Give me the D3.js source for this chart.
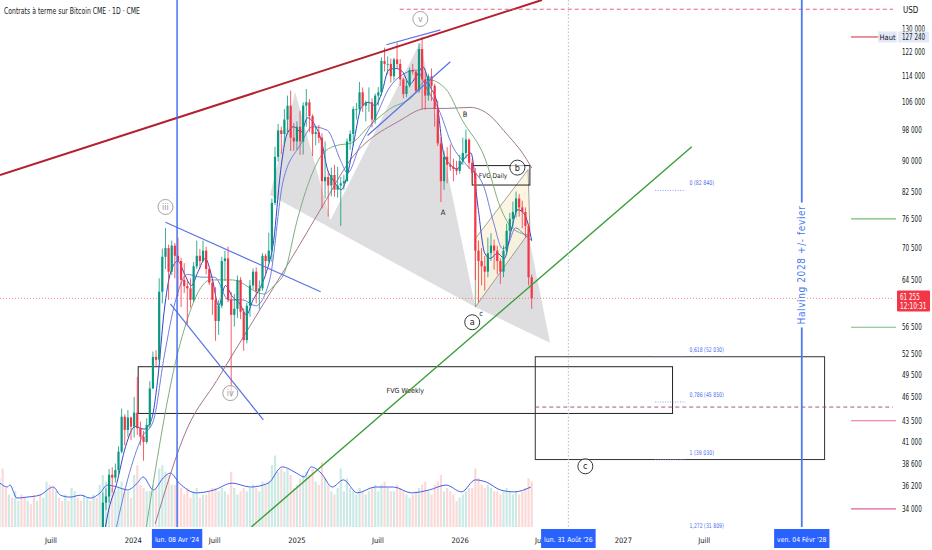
<!DOCTYPE html>
<html lang="fr">
<head>
    <meta charset="utf-8">
    <script type="text/javascript" src="https://d3js.org/d3.v7.min.js"></script>
    <title>Contrats à terme sur Bitcoin CME · 1D · CME</title>
    <style>
        html, body { margin: 0; padding: 0; background: #ffffff; }
        svg text { font-family: "Liberation Sans Narrow", "DejaVu Sans Condensed", "Liberation Sans", sans-serif; }
    </style>
</head>
<body>
<div id="chart"></div>
<script type="text/javascript">

// ---------- DATA (prices in thousands USD, weekly candles) ----------
const weekStart = "2023-10-02";
const firstOpenK = 27.0;
const closeK = [28.0,27.2,30.5,34.6,35.2,37.4,37.1,37.9,39.9,44.0,
    42.4,43.9,42.8,44.5,42.6,41.6,41.0,43.0,47.6,52.0,
    51.6,62.4,68.8,70.5,66.0,71.0,69.0,68.0,64.5,63.4,
    63.0,61.0,67.0,69.0,68.0,70.0,66.5,64.0,61.0,57.5,
    60.0,68.0,68.5,61.0,58.5,59.5,64.5,59.0,54.5,60.0,
    63.5,66.0,62.5,63.0,69.0,68.0,70.0,80.0,91.0,98.0,
    97.0,101.0,105.0,96.0,95.0,99.0,95.0,105.0,106.0,102.0,
    97.0,97.5,96.0,85.0,86.0,84.0,86.5,83.0,84.0,84.5,
    85.0,95.0,97.0,104.0,104.0,109.0,105.0,106.0,106.0,101.0,
    108.0,109.0,119.0,118.0,118.0,114.0,119.5,118.0,113.0,108.5,
    111.0,116.0,115.5,109.5,123.0,113.0,108.0,114.0,111.0,104.0,
    94.5,85.0,91.0,89.0,88.5,88.0,87.5,90.0,92.0,95.5,
    89.5,87.0,70.0,68.0,67.0,66.0,69.5,71.0,70.0,68.0,
    66.0,70.0,74.0,76.5,78.0,81.0,79.0,78.0,75.0,65.0,
    61.255];
const highK = [28.8,28.2,31.2,35.6,36.0,38.0,38.2,38.6,40.5,45.0,
    44.3,44.8,44.0,46.5,49.2,43.4,42.3,43.8,48.6,52.8,
    53.0,64.8,70.4,74.6,71.2,72.0,71.5,72.6,68.6,67.6,
    64.6,64.8,67.8,72.0,70.3,72.0,70.8,66.8,64.6,63.2,
    61.0,68.8,70.0,70.8,62.4,62.0,65.3,65.0,59.6,60.5,
    64.5,66.6,66.8,64.4,69.5,69.4,73.6,81.0,93.6,99.8,
    99.0,104.0,108.0,109.5,100.0,100.5,103.5,106.0,110.0,107.0,
    102.5,99.0,99.5,97.2,95.0,87.5,88.3,89.0,88.5,86.0,
    86.5,95.8,98.0,104.8,105.8,112.2,110.5,106.5,110.5,107.2,
    108.6,110.6,120.2,123.5,120.5,119.8,120.0,125.2,119.6,113.5,
    113.0,116.8,118.0,115.8,125.0,127.24,115.5,114.8,116.5,111.6,
    106.5,96.0,92.5,93.5,94.2,90.5,90.0,91.5,96.0,98.2,
    95.8,90.5,88.2,72.0,70.5,69.0,72.6,73.5,72.2,71.0,
    68.5,71.0,75.5,77.8,80.3,82.6,82.0,80.5,79.0,75.5,
    65.5];
const lowK = [27.3,26.8,27.0,30.3,33.9,34.6,35.6,36.6,37.2,39.7,
    40.6,41.6,41.2,41.5,41.8,40.6,38.9,40.8,42.6,47.6,
    50.6,51.3,60.4,66.5,61.0,65.4,64.8,61.6,59.8,62.2,
    57.0,59.7,60.6,66.5,66.6,67.8,65.5,63.6,58.5,54.4,
    55.3,59.6,64.3,60.6,46.5,56.6,58.0,57.8,52.9,54.0,
    58.2,62.8,60.4,59.4,62.6,65.5,67.6,67.8,79.5,89.8,
    91.8,94.0,97.5,92.5,92.5,92.8,91.5,91.6,99.0,97.5,
    91.2,94.0,94.6,78.8,81.0,77.0,81.5,81.4,81.2,75.0,
    83.0,85.0,92.8,93.8,101.0,102.6,103.2,100.5,103.2,98.8,
    99.8,105.0,108.0,115.5,114.6,112.0,112.6,116.5,111.0,107.2,
    107.5,110.5,114.6,108.6,108.8,104.0,103.8,106.5,106.4,99.0,
    93.8,80.2,83.0,84.5,87.5,85.0,86.5,86.8,89.0,90.6,
    88.0,84.6,64.5,60.6,63.5,62.6,65.0,68.0,66.4,65.5,
    63.8,65.0,69.2,72.6,74.6,76.8,77.0,74.5,72.6,63.5,
    59.5];

// weekly volume (thousand contracts / day, average), from 2023-03-06
const volStart = "2023-03-06";
const volume = [15,18,12,10, 9,11,8,10, 9,8,7,10,8, 10,9,14,13, 12,11,9,8,10, 8,12,11,9, 8,10,9,8,
    10,9,13,16,14, 13,12,11,12, 14,12,11,9,
    16,19,13,12,11, 11,13,12,18, 19,17,16,13, 13,14,12,10,12, 9,11,12,9, 10,10,11,12,
    12,11,12,11,10, 17,12,10,11, 12,11,12,13,12, 11,14,13,14, 19,22,17,18, 17,18,16,12,13,
    15,16,17,16, 18,14,13,20, 15,13,11,10,12, 18,11,15,12, 11,10,12,11, 10,11,12,13,11,
    13,14,12,11, 11,13,12,11, 10,9,10,11,12, 13,14,11,10, 13,14,16,11, 12,11,10,8,9,
    10,11,12,12, 18,15,13,12, 13,12,11,11,10, 11,12,11,10, 11,10,11,12, 15,14];
const volDirEarly = "udduduuddudduduuddudduduudduud";
const volMA = [["2023-03-09",13.5],["2023-03-25",12.3],["2023-03-31",12.9],["2023-04-16",8.9],
    ["2023-05-08",9.2],["2023-06-06",9.8],["2023-07-06",12.3],["2023-07-22",9.8],["2023-08-13",9.2],
    ["2023-09-05",9.8],["2023-09-27",8.9],["2023-10-19",10.5],["2023-11-04",12.9],["2023-11-26",12.3],
    ["2023-12-19",11.4],["2024-01-10",13.5],["2024-01-23",15.4],["2024-02-15",11.4],["2024-03-08",15.1],
    ["2024-03-24",16.6],["2024-04-13",13.5],["2024-05-21",10.5],["2024-06-30",11.4],["2024-08-09",13.5],
    ["2024-09-19",12.3],["2024-10-29",13.5],["2024-11-29",18.5],["2024-12-31",16.6],["2025-01-17",15.4],
    ["2025-02-02",18.5],["2025-02-24",16.6],["2025-03-21",12.3],["2025-04-15",14.5],["2025-05-16",10.5],
    ["2025-06-25",12.3],["2025-08-05",12.3],["2025-09-14",10.5],["2025-10-24",11.4],["2025-12-01",12.9],
    ["2026-01-04",10.8],["2026-02-04",14.5],["2026-03-01",13.8],["2026-04-01",11.4],["2026-05-02",10.8],
    ["2026-06-08",12.3]];

// moving averages (thousands)
const ma20 = [["2023-10-20",29.5],["2023-11-05",33.5],["2023-11-25",36.5],["2023-12-15",40.5],["2024-01-05",42.8],
    ["2024-01-25",42.5],["2024-02-10",43.5],["2024-02-25",49],["2024-03-10",59],["2024-03-25",66],["2024-04-10",68],
    ["2024-04-25",65.5],["2024-05-10",63.5],["2024-05-25",66],["2024-06-10",68.5],["2024-06-25",65],["2024-07-10",60],
    ["2024-07-25",63.5],["2024-08-10",61.5],["2024-08-25",60.5],["2024-09-10",58.5],["2024-09-25",61],["2024-10-10",63],
    ["2024-10-25",66],["2024-11-10",72],["2024-11-25",87],["2024-12-10",97],["2024-12-25",99],["2025-01-10",97.5],
    ["2025-01-25",101.5],["2025-02-10",99.5],["2025-02-25",95],["2025-03-10",88],["2025-03-25",85],["2025-04-10",83],
    ["2025-04-25",87],["2025-05-10",96],["2025-05-25",104.5],["2025-06-10",106],["2025-06-25",105],["2025-07-10",109],
    ["2025-07-25",116],["2025-08-10",116.5],["2025-08-25",115.5],["2025-09-10",111.5],["2025-09-25",114],
    ["2025-10-10",117],["2025-10-25",111],["2025-11-10",106],["2025-11-25",92],["2025-12-10",89],["2025-12-25",88],
    ["2026-01-10",90.5],["2026-01-25",92],["2026-02-10",79],["2026-02-25",69.5],["2026-03-10",68.5],["2026-03-25",69.5],
    ["2026-04-10",68.5],["2026-04-25",74],["2026-05-10",78.5],["2026-05-25",77.5],["2026-06-10",72]];
const ma50 = [["2023-11-20",31.5],["2023-12-20",37],["2024-01-20",41.5],["2024-02-15",43.5],["2024-03-10",52],
    ["2024-04-05",61],["2024-05-01",65.5],["2024-06-01",65],["2024-07-01",65],["2024-08-01",61],["2024-09-01",61],
    ["2024-10-01",60],["2024-11-01",64.5],["2024-12-01",85],["2025-01-08",94],["2025-02-05",99],["2025-03-10",98],
    ["2025-04-09",90],["2025-04-24",87],["2025-05-22",94],["2025-06-27",102],["2025-07-25",110],["2025-08-31",115],
    ["2025-09-25",116],["2025-10-19",110],["2025-11-17",103],["2025-12-14",94],["2026-01-15",89],["2026-02-22",84],
    ["2026-03-16",76],["2026-04-06",70.4],["2026-04-17",71],["2026-05-05",74.6],["2026-05-27",73],["2026-06-10",72]];
const ma100 = [["2024-01-25",31],["2024-04-15",54],["2024-06-22",64.5],["2024-08-10",64.5],["2024-10-19",62],
    ["2024-11-11",63.5],["2024-12-05",66],["2025-01-01",76],["2025-02-01",86],["2025-03-01",92],["2025-04-02",94],
    ["2025-05-01",94.5],["2025-06-10",99],["2025-07-27",104],["2025-09-15",107.5],["2025-10-20",113],
    ["2025-11-30",110],["2026-01-05",101],["2026-02-26",90.5],["2026-04-01",79],["2026-04-28",74.5],["2026-06-08",73]];
const ma200 = [["2024-02-19",32.6],["2024-04-30",42.5],["2024-07-06",48.7],["2024-10-18",60.3],["2025-01-02",70.4],
    ["2025-03-01",79.6],["2025-05-01",90.3],["2025-08-19",100.7],["2025-10-18",104.2],["2025-12-02",104.2],
    ["2026-01-23",104.5],["2026-03-10",102],["2026-04-08",98],["2026-05-30",90.3],["2026-06-10",88.2]];

// axes
const priceTicks = [130000,122000,114000,106000,98000,90000,82500,76500,70500,64500,56500,52500,49500,46500,43500,41000,38600,36200,34000];
const timeTicks = [["2023-07-01","Juill"],["2024-01-01","2024"],["2024-07-01","Juill"],["2025-01-01","2025"],
    ["2025-07-01","Juill"],["2026-01-01","2026"],["2026-07-01","Juill"],["2027-01-01","2027"],["2027-07-01","Juill"]];
const markerDates = [["2024-04-08","lun. 08 Avr '24"],["2026-08-31","lun. 31 Août '26"],["2028-02-04","ven. 04 Févr '28"]];
const lastPrice = 61255;
const lastTime = "12:10:31";
const highPrice = 127240;
const alertLevels = [[127240,"#e0485f"],[76500,"#6fbf73"],[56500,"#6fbf73"],[43500,"#ec6a86"],[34000,"#e0609a"]];

// drawings (date, price)
const fibLevels = [["0",82840],["0,618",52030],["0,786",45850],["1",39030],["1,272",31809]];
const fibSpan = ["2027-03-13","2027-05-20"];
const redTrend = [["2023-03-09",86500],["2026-07-03",141100]];
const greenTrend = [["2024-09-21",32320],["2027-06-03",93600]];
const wedgeUpper = [["2024-03-13",75800],["2025-02-23",62400]];
const wedgeLower = [["2024-03-24",60300],["2024-10-18",43600]];
const topBlueA = [["2025-07-20",124500],["2025-11-18",129800]];
const topBlueB = [["2025-06-08",96600],["2025-12-10",118700]];
const harmonic1 = [["2024-11-02",81800],["2024-12-28",109100],["2025-03-17",76200],["2025-10-04",125500],["2026-02-04",59800]];
const harmonic2 = [["2026-02-04",59800],["2026-05-15",82200],["2026-07-21",54100]];
const channel = [["2026-02-04",72400],["2026-06-02",87800],["2026-06-06",73900],["2026-02-04",59800]];
const fvgWeekly = ["2024-01-12","2027-04-21",50600,44400];
const fvgDaily = ["2026-01-28","2026-06-06",88800,84100];
const targetBox = ["2026-06-18","2028-03-26",52030,39030];
const magentaDash = ["2026-06-18",45200];
const topDash = ["2025-08-19",137500];
const waveCircles = [["2024-03-13",79100,"iii","#9a9a9a"],["2024-08-05",47000,"iv","#9a9a9a"],["2025-10-04",133800,"v","#9a9a9a"],
    ["2026-01-28",57300,"a","#222"],["2026-05-09",88300,"b","#222"],["2026-10-08",38300,"c","#222"]];
const plainLetters = [["2025-11-24",77300,"A"],["2026-01-12",101700,"B"],["2026-02-17",58300,"c"]];
const halvingDate = "2028-02-04";
const aprilDate = "2024-04-08";
const dottedDate = "2026-08-31";

// ---------- SETUP ----------
const W = 932, H = 550, paneW = 893, paneH = 527;
const parse = d3.utcParse("%Y-%m-%d");
const x = d3.scaleUtc().domain([parse("2023-03-09"), parse("2028-08-26")]).range([0, paneW]);
const y = d3.scaleLog().domain([32320, 141100]).range([paneH, 0]);
const yVol = d3.scaleLinear().domain([0, 40]).range([paneH, paneH - 130]);
const fmt = v => d3.format(",")(v).replace(/,/g, " ");
const px = d => x(parse(d[0]));
const py = d => y(d[1]);

const svg = d3.select("#chart").append("svg")
    .attr("width", W).attr("height", H)
    .style("display", "block").style("background", "#fff");

svg.append("clipPath").attr("id", "pane")
    .append("rect").attr("x", 0).attr("y", 0).attr("width", paneW).attr("height", paneH);

const pane = svg.append("g").attr("clip-path", "url(#pane)");

// candle objects
const candles = closeK.map((c, i) => {
    const open = i === 0 ? firstOpenK : closeK[i - 1];
    return { date: d3.utcDay.offset(parse(weekStart), 7 * i + 2), open: open * 1000, close: c * 1000, high: highK[i] * 1000, low: lowK[i] * 1000 };
});

// ---------- harmonic patterns & channel ----------
const poly = d3.line().x(px).y(py);
pane.append("path").attr("d", poly(harmonic1) + "Z").attr("fill", "#d6d6d8").attr("fill-opacity", 0.8);
pane.append("path").attr("d", poly(harmonic2) + "Z").attr("fill", "#d6d6d8").attr("fill-opacity", 0.8);
pane.append("path").attr("d", poly(channel) + "Z").attr("fill", "#fbf3dc").attr("fill-opacity", 0.85)
    .attr("stroke", "#8a8a8a").attr("stroke-width", 0.8);

// ---------- volume ----------
const volData = volume.map((v, i) => {
    const ci = i - 30;
    let up;
    if (ci < 0) up = volDirEarly[i] === "u";
    else up = candles[ci].close >= candles[ci].open;
    return { date: d3.utcDay.offset(parse(volStart), 7 * i + 2), v: v, up: up };
});
pane.append("g").selectAll("rect").data(volData).join("rect")
    .attr("x", d => x(d.date) - 1.1)
    .attr("y", d => yVol(d.v))
    .attr("width", 2.2)
    .attr("height", d => paneH - yVol(d.v))
    .attr("fill", d => d.up ? "#8fd0c5" : "#f6aaa9")
    .attr("fill-opacity", 0.45);

pane.append("path").datum(volMA)
    .attr("d", d3.line().x(px).y(d => yVol(d[1])).curve(d3.curveMonotoneX))
    .attr("fill", "none").attr("stroke", "#4461e6").attr("stroke-width", 1);

// ---------- boxes ----------
function box(b, stroke) {
    const x0 = x(parse(b[0])), x1 = x(parse(b[1])), y0 = y(b[2]), y1 = y(b[3]);
    pane.append("rect").attr("x", x0).attr("y", y0).attr("width", x1 - x0).attr("height", y1 - y0)
        .attr("fill", "none").attr("stroke", stroke).attr("stroke-width", 1);
    return [(x0 + x1) / 2, (y0 + y1) / 2];
}
const fw = box(fvgWeekly, "#222");
const fd = box(fvgDaily, "#222");
box(targetBox, "#333");
pane.append("text").attr("x", fw[0]).attr("y", fw[1] + 2.5).attr("text-anchor", "middle")
    .style("font-size", "7px").attr("fill", "#222").text("FVG Weekly");
pane.append("text").attr("x", fd[0] - 8).attr("y", fd[1] + 2.5).attr("text-anchor", "middle")
    .style("font-size", "6.5px").attr("fill", "#222").text("FVG Daily");

// ---------- moving averages ----------
const maLine = d3.line().x(px).y(d => y(d[1] * 1000)).curve(d3.curveMonotoneX);
[[ma200, "#a27590"], [ma100, "#7fae7f"], [ma50, "#6f7fe0"], [ma20, "#3544c8"]].forEach(([data, col]) => {
    pane.append("path").datum(data).attr("d", maLine)
        .attr("fill", "none").attr("stroke", col).attr("stroke-width", 1);
});

// ---------- candles ----------
const cg = pane.append("g");
cg.selectAll("line").data(candles).join("line")
    .attr("x1", d => x(d.date)).attr("x2", d => x(d.date))
    .attr("y1", d => y(d.high)).attr("y2", d => y(d.low))
    .attr("stroke", d => d.close >= d.open ? "#089981" : "#f23645").attr("stroke-width", 0.8);
cg.selectAll("rect").data(candles).join("rect")
    .attr("x", d => x(d.date) - 1.1)
    .attr("y", d => y(Math.max(d.open, d.close)))
    .attr("width", 2.2)
    .attr("height", d => Math.max(0.8, Math.abs(y(d.open) - y(d.close))))
    .attr("fill", d => d.close >= d.open ? "#089981" : "#f23645");

// ---------- drawings ----------
function seg(s, col, w, dash) {
    const l = pane.append("line").attr("x1", px(s[0])).attr("y1", py(s[0]))
        .attr("x2", px(s[1])).attr("y2", py(s[1]))
        .attr("stroke", col).attr("stroke-width", w);
    if (dash) l.attr("stroke-dasharray", dash);
}
seg(redTrend, "#b3202f", 2);
seg(greenTrend, "#3a9d3a", 1.4);
seg(wedgeUpper, "#5a73e6", 1.2);
seg(wedgeLower, "#5a73e6", 1.2);
seg(topBlueA, "#5a73e6", 1.2);
seg(topBlueB, "#5a73e6", 1.2);

// horizontal dashed lines
pane.append("line").attr("x1", x(parse(magentaDash[0]))).attr("x2", paneW)
    .attr("y1", y(magentaDash[1])).attr("y2", y(magentaDash[1]))
    .attr("stroke", "#a0407a").attr("stroke-width", 0.9).attr("stroke-dasharray", "4,3");
pane.append("line").attr("x1", x(parse(topDash[0]))).attr("x2", paneW)
    .attr("y1", y(topDash[1])).attr("y2", y(topDash[1]))
    .attr("stroke", "#e0506e").attr("stroke-width", 0.9).attr("stroke-dasharray", "4,3");
pane.append("line").attr("x1", 0).attr("x2", paneW)
    .attr("y1", y(lastPrice)).attr("y2", y(lastPrice))
    .attr("stroke", "#f23645").attr("stroke-width", 0.8).attr("stroke-dasharray", "1,2").attr("opacity", 0.7);

// vertical lines
pane.append("line").attr("x1", x(parse(dottedDate))).attr("x2", x(parse(dottedDate)))
    .attr("y1", 0).attr("y2", paneH).attr("stroke", "#b4bccb").attr("stroke-width", 1).attr("stroke-dasharray", "1.5,2");
pane.append("line").attr("x1", x(parse(aprilDate))).attr("x2", x(parse(aprilDate)))
    .attr("y1", 0).attr("y2", paneH).attr("stroke", "#3d68ee").attr("stroke-width", 1.4);
const hx = x(parse(halvingDate));
pane.append("line").attr("x1", hx).attr("x2", hx).attr("y1", 0).attr("y2", paneH)
    .attr("stroke", "#4a7af0").attr("stroke-width", 1.8);
const hGap = pane.append("rect").attr("fill", "#fff");
const ht = pane.append("text").attr("transform", `translate(${hx + 3.5},265) rotate(-90)`)
    .attr("text-anchor", "middle").style("font-size", "10px").style("letter-spacing", "0.6px")
    .attr("fill", "#4a7af0").text("Halving 2028  +/- fevier");
const htl = ht.node().getComputedTextLength();
hGap.attr("x", hx - 3).attr("y", 265 - htl / 2 - 3).attr("width", 6).attr("height", htl + 6);

// fib levels
const fx0 = x(parse(fibSpan[0])), fx1 = x(parse(fibSpan[1]));
fibLevels.forEach(f => {
    pane.append("line").attr("x1", fx0).attr("x2", fx1).attr("y1", y(f[1])).attr("y2", y(f[1]))
        .attr("stroke", "#6f8cf2").attr("stroke-width", 0.8).attr("stroke-dasharray", "1,1.5");
    const label = `${f[0]} (${fmt(f[1])})`;
    svg.append("text").attr("x", fx1 + 4).attr("y", y(f[1]) - 5)
        .style("font-size", "6.5px").attr("fill", "#4a6cf0")
        .attr("textLength", label.length * 2.45).attr("lengthAdjust", "spacingAndGlyphs").text(label);
});

// wave labels
waveCircles.forEach(w => {
    const cx = px(w), cy = py(w);
    pane.append("circle").attr("cx", cx).attr("cy", cy).attr("r", 7.5)
        .attr("fill", "#fff").attr("fill-opacity", 0.6).attr("stroke", w[3]).attr("stroke-width", 0.9);
    pane.append("text").attr("x", cx).attr("y", cy + 3).attr("text-anchor", "middle")
        .style("font-size", "9px").attr("fill", w[3]).text(w[2]);
});
plainLetters.forEach(l => {
    pane.append("text").attr("x", px(l)).attr("y", py(l)).attr("text-anchor", "middle")
        .style("font-size", "7.5px").attr("fill", "#222").text(l[2]);
});

// ---------- right price axis ----------
const axisX = 902;
const narrow = (sel, s) => sel.attr("textLength", s.length * 3.3).attr("lengthAdjust", "spacingAndGlyphs").text(s);
priceTicks.forEach(t => {
    narrow(svg.append("text").attr("x", axisX).attr("y", y(t) + 3)
        .style("font-size", "8px").attr("fill", "#131722"), fmt(t));
});
svg.append("text").attr("x", axisX + 1).attr("y", 13).style("font-size", "8px").attr("fill", "#131722").text("USD");

alertLevels.forEach(a => {
    svg.append("line").attr("x1", 851).attr("x2", a[0] === highPrice ? 878 : 896)
        .attr("y1", y(a[0])).attr("y2", y(a[0])).attr("stroke", a[1]).attr("stroke-width", 1.2);
});
// high label
svg.append("rect").attr("x", 878).attr("y", y(highPrice) - 5.5).attr("width", 19).attr("height", 11).attr("fill", "#e3e9f6");
svg.append("text").attr("x", 887.5).attr("y", y(highPrice) + 3).attr("text-anchor", "middle")
    .style("font-size", "7.5px").attr("fill", "#131722").text("Haut");
svg.append("rect").attr("x", 898).attr("y", y(highPrice) - 5.5).attr("width", 31).attr("height", 11).attr("fill", "#e3e9f6");
narrow(svg.append("text").attr("x", axisX).attr("y", y(highPrice) + 3)
    .style("font-size", "8px").attr("fill", "#131722"), fmt(highPrice));
// last price label
const ly = y(lastPrice);
svg.append("rect").attr("x", 897).attr("y", ly - 8).attr("width", 33).attr("height", 21).attr("fill", "#f23645").attr("rx", 1);
narrow(svg.append("text").attr("x", 900).attr("y", ly + 2).style("font-size", "8px").attr("fill", "#fff"), fmt(lastPrice));
narrow(svg.append("text").attr("x", 900).attr("y", ly + 10.5).style("font-size", "8px").attr("fill", "#fff"), lastTime);

// ---------- time axis ----------
timeTicks.forEach(t => {
    svg.append("text").attr("x", x(parse(t[0]))).attr("y", 543).attr("text-anchor", "middle")
        .style("font-size", "7.5px").attr("fill", "#131722").text(t[1]);
});
markerDates.forEach(m => {
    const mx = x(parse(m[0]));
    const r = svg.append("rect").attr("fill", "#2962ff");
    const t = svg.append("text").attr("x", mx).attr("y", 542).attr("text-anchor", "middle")
        .style("font-size", "6.8px").attr("fill", "#fff").text(m[1]);
    const tw = t.node().getComputedTextLength();
    r.attr("x", mx - tw / 2 - 3).attr("y", 529).attr("width", tw + 6).attr("height", 19);
});

// ---------- title ----------
svg.append("text").attr("x", 4).attr("y", 14).style("font-size", "9px").attr("fill", "#131722")
    .attr("textLength", 136).attr("lengthAdjust", "spacingAndGlyphs")
    .text("Contrats à terme sur Bitcoin CME · 1D · CME");

</script>
</body>
</html>
